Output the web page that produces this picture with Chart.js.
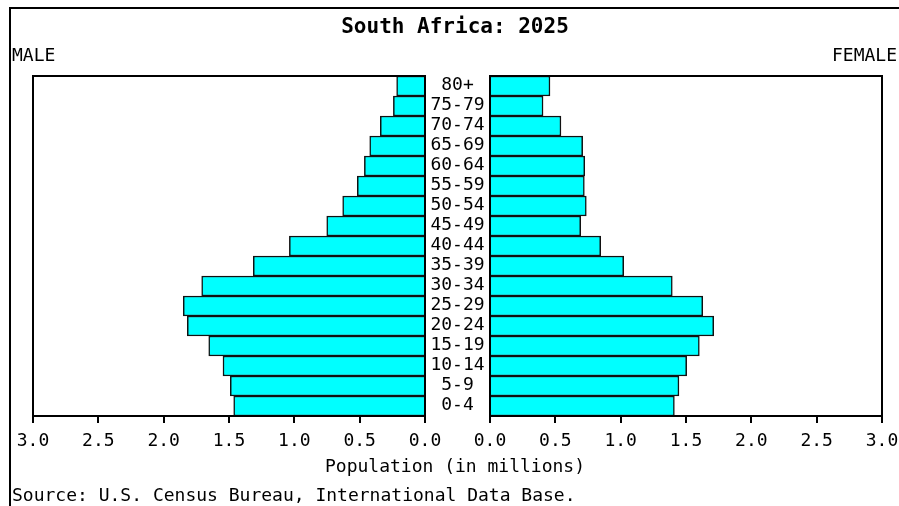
<!DOCTYPE html>
<html>
<head>
<meta charset="utf-8">
<script src="https://cdn.jsdelivr.net/npm/chart.js@4.4.1/dist/chart.umd.min.js"></script>
<style>
  html, body { margin:0; padding:0; background:#fff; }
  #wrap { position:relative; width:899px; height:506px; overflow:hidden; font-family:"DejaVu Sans Mono", "Liberation Mono", monospace; color:#000; }
  #frame { position:absolute; left:9px; top:7px; width:900px; height:510px; border-top:2px solid #000; border-left:2px solid #000; }
  canvas { position:absolute; left:0; top:0; }
  .txt { position:absolute; font-size:18px; line-height:18px; white-space:pre; }
</style>
</head>
<body>
<div id="wrap">
  <div id="frame"></div>
  <canvas id="male" width="899" height="506"></canvas>
  <canvas id="female" width="930" height="506"></canvas>
  <div class="txt" style="left:0;width:910px;text-align:center;top:16px;font-size:21px;line-height:21px;font-weight:bold;">South Africa: 2025</div>
  <div class="txt" style="left:12px;top:46px;">MALE</div>
  <div class="txt" style="right:2px;top:46px;">FEMALE</div>
  <div class="txt" style="left:0;width:910px;text-align:center;top:457px;">Population (in millions)</div>
  <div class="txt" style="left:12px;top:486px;">Source: U.S. Census Bureau, International Data Base.</div>
</div>
<script>
// age groups, bottom to top
const ageGroups = ["0-4","5-9","10-14","15-19","20-24","25-29","30-34","35-39","40-44","45-49","50-54","55-59","60-64","65-69","70-74","75-79","80+"];
// population in millions
const maleValues = [1.464,1.490,1.546,1.655,1.819,1.850,1.709,1.314,1.038,0.752,0.630,0.518,0.464,0.423,0.342,0.242,0.217];
const femaleValues = [1.411,1.446,1.505,1.602,1.712,1.628,1.395,1.023,0.847,0.694,0.737,0.722,0.725,0.709,0.543,0.406,0.459];
const xTicks = [0, 0.5, 1, 1.5, 2, 2.5, 3];

const monoFont = '"DejaVu Sans Mono", "Liberation Mono", monospace';

const framePlugin = {
  id: "frame",
  afterDatasetsDraw(chart) {
    const a = chart.chartArea;
    const ctx = chart.ctx;
    ctx.save();
    ctx.strokeStyle = "#000";
    ctx.lineWidth = 2;
    ctx.strokeRect(a.left, a.top, a.right - a.left, a.bottom - a.top);
    ctx.restore();
  }
};

const ageLabelPlugin = {
  id: "ageLabels",
  afterDatasetsDraw(chart) {
    const ctx = chart.ctx;
    const yScale = chart.scales.y;
    ctx.save();
    ctx.font = "18px " + monoFont;
    ctx.fillStyle = "#000";
    ctx.textAlign = "center";
    ctx.textBaseline = "middle";
    ageGroups.forEach((lab, i) => {
      ctx.fillText(lab, 457.5, yScale.getPixelForValue(i) - 1);
    });
    ctx.restore();
  }
};

function makeChart(id, values, reverse, pad, extra) {
  return new Chart(document.getElementById(id), {
    type: "bar",
    data: {
      labels: ageGroups,
      datasets: [{
        data: values,
        backgroundColor: "#00ffff",
        borderColor: "#111",
        borderWidth: 1.5,
        barPercentage: 1,
        categoryPercentage: 1
      }]
    },
    options: {
      indexAxis: "y",
      responsive: false,
      animation: false,
      devicePixelRatio: 1,
      layout: { padding: pad },
      plugins: { legend: { display: false }, tooltip: { enabled: false } },
      scales: {
        x: {
          min: 0, max: 3, reverse: reverse,
          afterBuildTicks: (axis) => { axis.ticks = xTicks.map(v => ({ value: v })); },
          afterFit: (axis) => { axis.height = 40; },
          ticks: {
            callback: (v) => Number(v).toFixed(1),
            font: { family: monoFont, size: 18 },
            color: "#000",
            padding: 8,
            maxRotation: 0,
            autoSkip: false
          },
          grid: { drawOnChartArea: false, drawTicks: true, tickLength: 7, color: "#000", lineWidth: 2 },
          border: { display: true, color: "#000", width: 2 }
        },
        y: { display: false, reverse: true }
      }
    },
    plugins: extra
  });
}

makeChart("male", maleValues, true, { left: 33, right: 474, top: 76, bottom: 50 }, [framePlugin]);
makeChart("female", femaleValues, false, { left: 490, right: 48, top: 76, bottom: 50 }, [framePlugin, ageLabelPlugin]);
</script>
</body>
</html>
